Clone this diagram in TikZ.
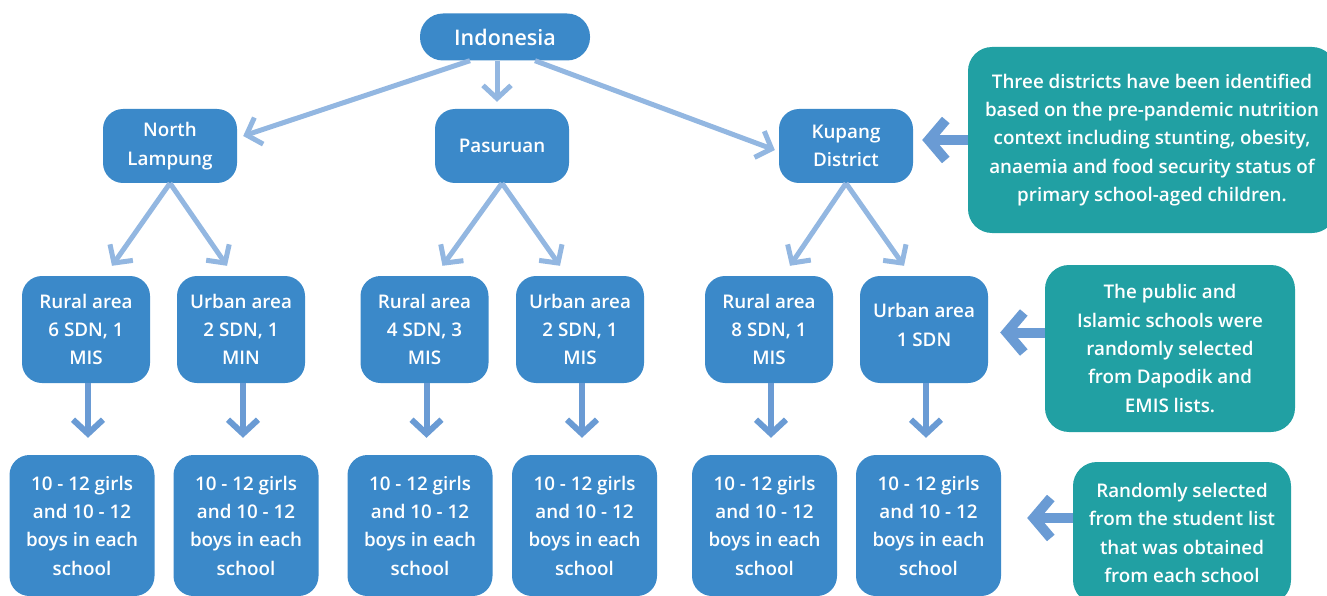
\documentclass[tikz,border=0pt]{standalone}
\usepackage{fontspec}
\setmainfont{Open Sans}[BoldFont={Open Sans Semibold}]
\usetikzlibrary{arrows.meta,calc}
\definecolor{boxblue}{HTML}{3B89C9}
\definecolor{arrlight}{HTML}{93B7E1}
\definecolor{arrmid}{HTML}{6A9BD4}
\definecolor{tealbox}{HTML}{21A0A3}
\tikzset{
  base/.style={fill=boxblue, text=white, font=\bfseries\fontsize{18.8}{28.3}\selectfont, align=center, inner sep=0pt, rounded corners=20pt},
  topbox/.style={base, minimum width=170pt, minimum height=47pt, rounded corners=23pt, font=\bfseries\fontsize{21.5}{28}\selectfont},
  dist/.style={base, minimum width=134pt, minimum height=74pt},
  area/.style={base, minimum width=128pt, minimum height=107pt},
  kids/.style={base, minimum width=145pt, minimum height=141pt},
  note/.style={base, fill=tealbox, rounded corners=24pt},
  thinarrow/.style={draw=arrlight, line width=5pt, -{Straight Barb[length=13pt,width=28pt]}},
  downarrow/.style={draw=arrmid, line width=6pt, -{Straight Barb[length=14pt,width=30pt]}},
  sidearrow/.style={draw=arrmid, line width=10pt, -{Straight Barb[length=17pt,width=40pt]}}
}
\begin{document}
\begin{tikzpicture}[x=1pt,y=-1pt]
\useasboundingbox (0,0) rectangle (1327,596);
\clip (0,0) rectangle (1327,596);
% top
\node[topbox] (ind) at (505,37) {Indonesia};
% districts
\node[dist] (nl) at (170,146) {North\\Lampung};
\node[dist] (pas) at (502,146) {Pasuruan};
\node[dist] (kup) at (846,146) {Kupang\\District};
% areas
\node[area] (r1) at (86,329.5) {Rural area\\6 SDN, 1\\MIS};
\node[area] (r2) at (241,329.5) {Urban area\\2 SDN, 1\\MIN};
\node[area] (r3) at (424.5,329.5) {Rural area\\4 SDN, 3\\MIS};
\node[area] (r4) at (580,329.5) {Urban area\\2 SDN, 1\\MIS};
\node[area] (r5) at (769,329.5) {Rural area\\8 SDN, 1\\MIS};
\node[area] (r6) at (924,329.5) {Urban area\\1 SDN\\[-19pt]\mbox{}};
% children
\node[kids] (b1) at (82,525.5) {10 - 12 girls\\and 10 - 12\\boys in each\\school};
\node[kids] (b2) at (246,525.5) {10 - 12 girls\\and 10 - 12\\boys in each\\school};
\node[kids] (b3) at (420,525.5) {10 - 12 girls\\and 10 - 12\\boys in each\\school};
\node[kids] (b4) at (584.5,525.5) {10 - 12 girls\\and 10 - 12\\boys in each\\school};
\node[kids] (b5) at (764.5,525.5) {10 - 12 girls\\and 10 - 12\\boys in each\\school};
\node[kids] (b6) at (928.5,525.5) {10 - 12 girls\\and 10 - 12\\boys in each\\school};
% notes
\node[note, minimum width=368pt, minimum height=186pt] (t1) at (1152,140)
  {Three districts have been identified\\based on the pre-pandemic nutrition\\context including stunting, obesity,\\anaemia and food security status of\\primary school-aged children.};
\node[note, minimum width=250pt, minimum height=167pt] (t2) at (1170,348.5)
  {The public and\\Islamic schools were\\randomly selected\\from Dapodik and\\EMIS lists.};
\node[note, minimum width=218pt, minimum height=142pt] (t3) at (1182,533)
  {Randomly selected\\from the student list\\that was obtained\\from each school};
% arrows from Indonesia
\draw[thinarrow] ($(ind.south)+(-35,0)$) -- ($(nl.east)+(6,-10)$);
\draw[thinarrow] ($(ind.south)+(-8,0)$) -- ($(pas.north)+(-5,-7)$);
\draw[thinarrow] ($(ind.south)+(30,0)$) -- ($(kup.west)+(-4,4)$);
% district to area
\draw[thinarrow] (nl.south) -- ($(r1.north)+(26,-10)$);
\draw[thinarrow] (nl.south) -- ($(r2.north)+(-14,-10)$);
\draw[thinarrow] (pas.south) -- ($(r3.north)+(18,-10)$);
\draw[thinarrow] (pas.south) -- ($(r4.north)+(-20,-10)$);
\draw[thinarrow] (kup.south) -- ($(r5.north)+(21,-10)$);
\draw[thinarrow] (kup.south) -- ($(r6.north)+(-20,-10)$);
% area to children
\foreach \a/\b in {r1/b1,r2/b2,r3/b3,r4/b4,r5/b5,r6/b6}{
  \draw[downarrow] ($(\a.south)+(2,0)$) -- ($(\a.south |- \b.north)+(2,-17)$);
}
% side arrows
\draw[sidearrow] (t1.west) -- ($(t1.west -| kup.east)+(9,0)$);
\draw[sidearrow] ($(t2.west)+(0,-16)$) -- ($(t2.west -| r6.east)+(12,-16)$);
\draw[sidearrow] ($(t3.west)+(0,-15)$) -- ($(t3.west -| b6.east)+(26,-15)$);
\end{tikzpicture}
\end{document}
